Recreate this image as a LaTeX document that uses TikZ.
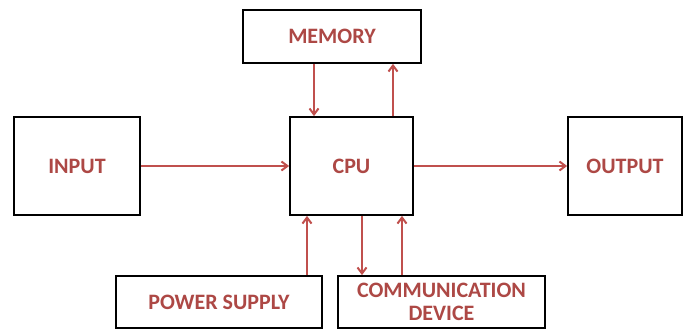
\documentclass[tikz,border=0pt]{standalone}
\usepackage{fontspec}
\setmainfont{Carlito}
\usetikzlibrary{arrows.meta}
\definecolor{accent}{HTML}{C0504D}
\begin{document}
\begin{tikzpicture}[x=1pt,y=-1pt,
  blk/.style={draw=black,line width=1.8pt,fill=white,inner sep=0pt,
    font=\bfseries\fontsize{22}{23}\selectfont,text=accent!90!black,align=center},
  link/.style={draw=accent,line width=2pt,-{Straight Barb[length=6pt,width=9pt]}}]
\useasboundingbox (0,0) rectangle (684,332);
\node[blk,minimum width=178pt,minimum height=53pt] (mem) at (332,36.5) {MEMORY};
\node[blk,minimum width=123pt,minimum height=98pt] (cpu) at (351.5,166) {CPU};
\node[blk,minimum width=126pt,minimum height=98pt] (in) at (77,166) {INPUT};
\node[blk,minimum width=114pt,minimum height=98pt] (out) at (625,166) {OUTPUT};
\node[blk,minimum width=206pt,minimum height=52pt] (pow) at (219,302) {POWER SUPPLY};
\node[blk,minimum width=207pt,minimum height=52pt] (com) at (441.5,302) {COMMUNICATION\\DEVICE};
\draw[link] (mem.south -| 314,0) -- (cpu.north -| 314,0);
\draw[link] (cpu.north -| 393,0) -- (mem.south -| 393,0);
\draw[link] (in.east) -- (cpu.west);
\draw[link] (cpu.east) -- (out.west);
\draw[link] (pow.north -| 307,0) -- (cpu.south -| 307,0);
\draw[link] (cpu.south -| 362,0) -- (com.north -| 362,0);
\draw[link] (com.north -| 402,0) -- (cpu.south -| 402,0);
\end{tikzpicture}
\end{document}
